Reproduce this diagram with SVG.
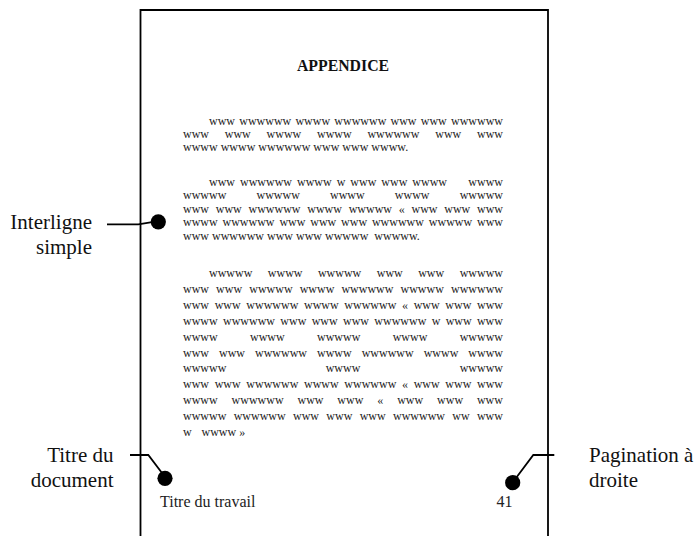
<svg xmlns="http://www.w3.org/2000/svg" width="697" height="536" viewBox="0 0 697 536">
<style>
text { font-family: "Liberation Serif", "Times New Roman", serif; fill: #111; }
.b { font-size: 12px; fill: #222; }
.t { font-size: 15.8px; font-weight: bold; }
.lab { font-size: 21px; }
.lr { text-anchor: end; }
.f { font-size: 16px; fill: #222; }
.ln { fill: none; stroke: #000; stroke-width: 1.8; }
.dot { fill: #000; }
</style>
<rect width="697" height="536" fill="#fff"/>
<g id="page">
  <path class="ln" d="M140.5,536 V10 H548 V536" stroke-width="2"/>
</g>
<g id="title">
  <text class="t" x="343" y="71" text-anchor="middle">APPENDICE</text>
</g>
<g id="paragraph1">
  <text class="b" x="209" y="124.5" word-spacing="1.22">www wwwwww wwww wwwwww www www wwwwww</text>
  <text class="b" x="183" y="137.9" word-spacing="12.78">www www wwww wwww wwwwww www www</text>
  <text class="b" x="183" y="151.3">wwww wwww wwwwww www www wwww.</text>
</g>
<g id="paragraph2">
  <text class="b" x="209" y="186" word-spacing="2">www wwwwww wwww w www www wwww<tspan x="468.3">wwww</tspan></text>
  <text class="b" x="183" y="199.4" word-spacing="27.17">wwwww wwwww wwww wwww wwwww</text>
  <text class="b" x="183" y="212.8" word-spacing="3.75">www www wwwwww wwww wwwww « www www www</text>
  <text class="b" x="183" y="226.2" word-spacing="1.86">wwww wwwwww www www www wwwwww wwwww www</text>
  <text class="b" x="183" y="239.6" xml:space="preserve">www wwwwww www www wwwww  wwwww.</text>
</g>
<g id="paragraph3">
  <text class="b" x="209" y="277" word-spacing="12.47">wwwww wwww wwwww www www wwwww</text>
  <text class="b" x="183" y="292.9" word-spacing="4.11">www www wwwww wwww wwwwww wwwww wwwwww</text>
  <text class="b" x="183" y="308.8" word-spacing="2.67">www www wwwwww wwww wwwwww « www www www</text>
  <text class="b" x="183" y="324.7" word-spacing="2.33">wwww wwwwww www www www wwwwww w www www</text>
  <text class="b" x="183" y="340.6" word-spacing="29.33">wwww wwww wwwww wwww wwwww</text>
  <text class="b" x="183" y="356.5" word-spacing="7">www www wwwwww wwww wwwwww wwww wwww</text>
  <text class="b" x="183" y="372.4" word-spacing="96.33">wwwww wwww wwwww</text>
  <text class="b" x="183" y="388.3" word-spacing="2.67">www www wwwwww wwww wwwwww « www www www</text>
  <text class="b" x="183" y="404.2" word-spacing="10.9">wwww wwwwww www www « www www www</text>
  <text class="b" x="183" y="420.1" word-spacing="4.33">wwwww wwwwww www www www wwwwww ww www</text>
  <text class="b" x="183" y="436">w<tspan x="201.5">wwww »</tspan></text>
</g>
<g id="footer-title">
  <text class="f" x="160" y="506.7">Titre du travail</text>
</g>
<g id="footer-page">
  <text class="f" x="496.5" y="506.7">41</text>
</g>
<g id="label-interligne">
  <text class="lab lr" x="92" y="228.5">Interligne</text>
  <text class="lab lr" x="92" y="253.5">simple</text>
  <circle class="dot" cx="158.3" cy="221.8" r="7.6"/>
</g>
<g id="label-titre">
  <text class="lab lr" x="113.5" y="461.7">Titre du</text>
  <text class="lab lr" x="113.5" y="486.7">document</text>
  <circle class="dot" cx="165" cy="478.3" r="7.6"/>
</g>
<g id="label-pagination">
  <text class="lab" x="589" y="461.7">Pagination à</text>
  <text class="lab" x="589" y="486.7">droite</text>
  <circle class="dot" cx="512.7" cy="482.7" r="7.6"/>
</g>
<g id="connectors">
  <path class="ln" d="M107,224.3 H138.3 L152,222.2"/>
  <path class="ln" d="M130,455 H148.3 L162,473"/>
  <path class="ln" d="M554.3,455 H533.3 L516,478"/>
</g>
</svg>
